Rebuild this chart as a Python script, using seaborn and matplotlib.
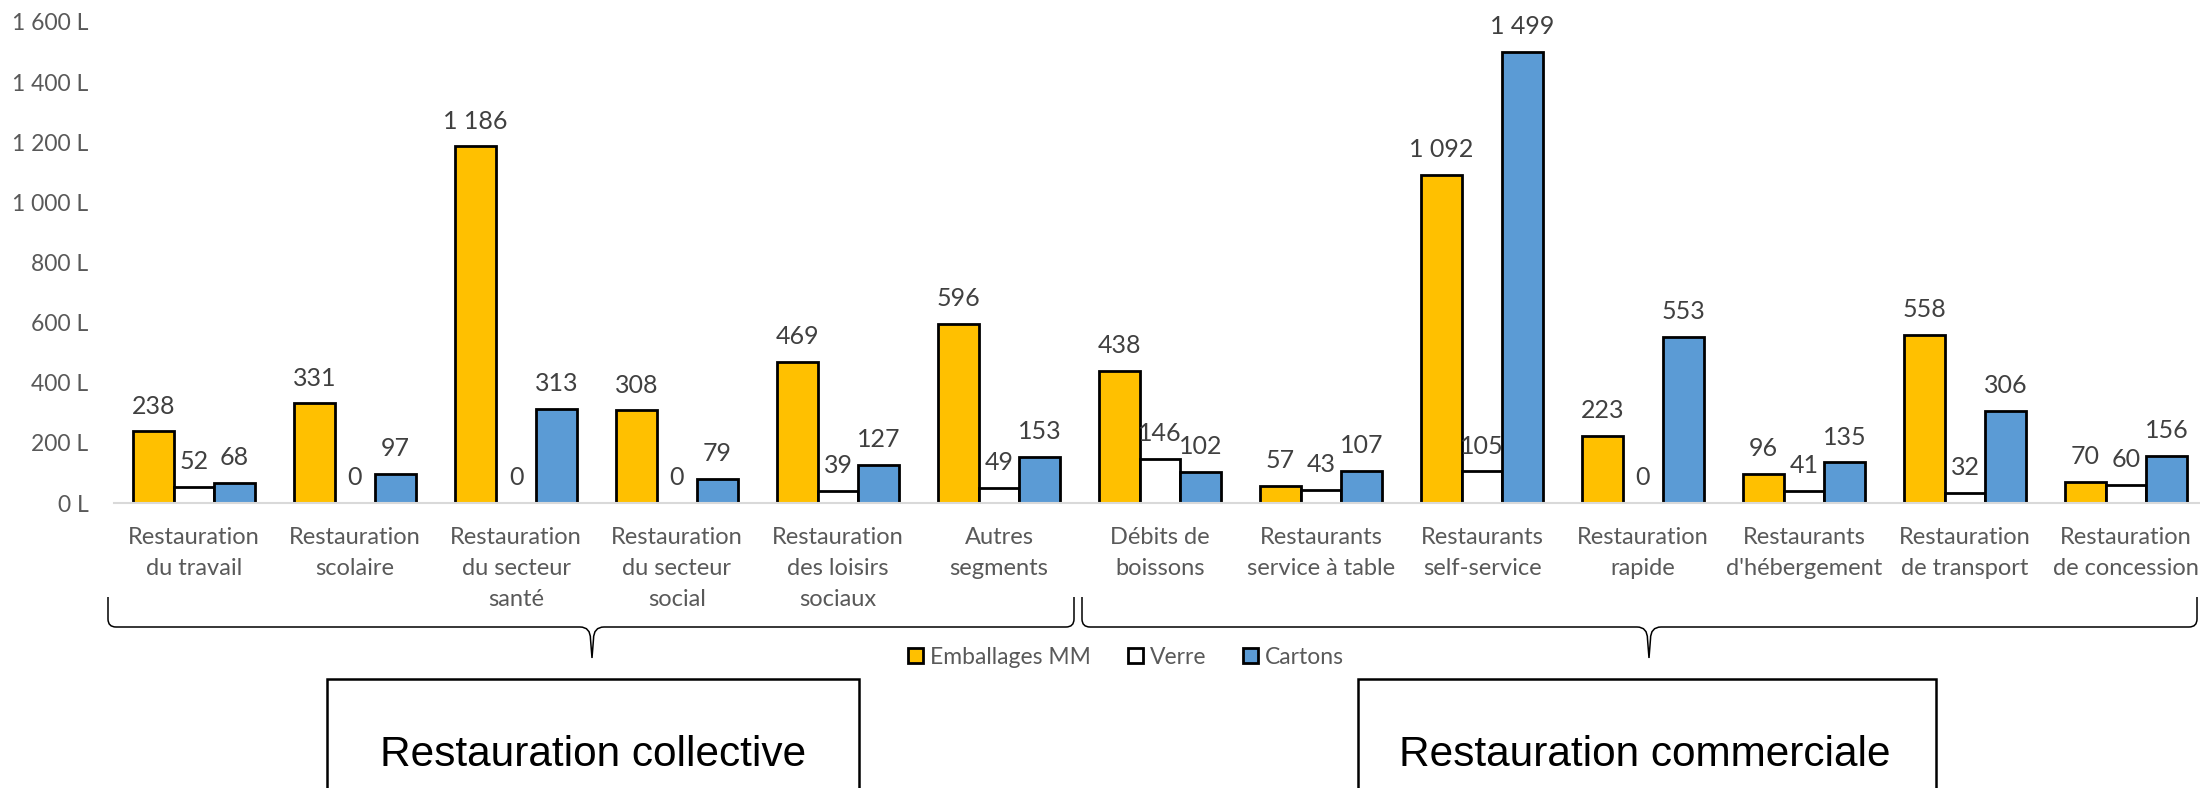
import matplotlib
matplotlib.use("Agg")
import matplotlib.pyplot as plt
from matplotlib.patches import PathPatch, Rectangle
from matplotlib.path import Path
import pandas as pd
import seaborn as sns

# ---------------------------------------------------------------------------
# Data
# ---------------------------------------------------------------------------
categories = [
    "Restauration\ndu travail",
    "Restauration\nscolaire",
    "Restauration\ndu secteur\nsanté",
    "Restauration\ndu secteur\nsocial",
    "Restauration\ndes loisirs\nsociaux",
    "Autres\nsegments",
    "Débits de\nboissons",
    "Restaurants\nservice à table",
    "Restaurants\nself-service",
    "Restauration\nrapide",
    "Restaurants\nd'hébergement",
    "Restauration\nde transport",
    "Restauration\nde concession",
]
emballages_mm = [238, 331, 1186, 308, 469, 596, 438, 57, 1092, 223, 96, 558, 70]
verre = [52, 0, 0, 0, 39, 49, 146, 43, 105, 0, 41, 32, 60]
cartons = [68, 97, 313, 79, 127, 153, 102, 107, 1499, 553, 135, 306, 156]

series_names = ["Emballages MM", "Verre", "Cartons"]
series_colors = ["#FFC000", "#FFFFFF", "#5B9BD5"]
y_ticks = [0, 200, 400, 600, 800, 1000, 1200, 1400, 1600]
group_names = ["Restauration collective", "Restauration commerciale"]

W, H = 2200, 788
TEXT_GREY = "#595959"
LABEL_GREY = "#404040"


def fmt(v):
    return f"{v:,}".replace(",", " ")


def fx(px):
    return px / W


def fy(py):
    return 1 - py / H


def draw_brace(fig, x0, x1, xc, y_top, y_line, y_tip):
    """Under-brace drawn in pixel coordinates (y downwards)."""
    r = 8
    pts = [
        (x0, y_top), (x0, y_line - r), (x0, y_line), (x0 + r, y_line),
        (xc - 12, y_line), (xc - 1.5, y_line), (xc - 1.5, y_line + 12),
        (xc, y_tip),
        (xc + 1.5, y_line + 12), (xc + 1.5, y_line), (xc + 12, y_line),
        (x1 - r, y_line), (x1, y_line), (x1, y_line - r), (x1, y_top),
    ]
    codes = [
        Path.MOVETO, Path.LINETO, Path.CURVE3, Path.CURVE3,
        Path.LINETO, Path.CURVE3, Path.CURVE3,
        Path.LINETO,
        Path.LINETO, Path.CURVE3, Path.CURVE3,
        Path.LINETO, Path.CURVE3, Path.CURVE3, Path.LINETO,
    ]
    verts = [(fx(x), fy(y)) for x, y in pts]
    fig.add_artist(PathPatch(Path(verts, codes), transform=fig.transFigure,
                             fill=False, edgecolor="black", lw=1.1))


# ---------------------------------------------------------------------------
# Figure
# ---------------------------------------------------------------------------
df = pd.DataFrame({
    "segment": categories * 3,
    "type": [s for s in series_names for _ in categories],
    "litres": emballages_mm + verre + cartons,
})

sns.set_theme(style="white")
plt.rcParams["font.family"] = ["Lato", "DejaVu Sans"]

fig = plt.figure(figsize=(W / 100, H / 100), dpi=100)
ax = fig.add_axes([fx(113.5), fy(503), 2093 / W, (503 - 22) / H])

sns.barplot(
    data=df, x="segment", y="litres", hue="type",
    hue_order=series_names, palette=dict(zip(series_names, series_colors)),
    width=0.755, saturation=1, edgecolor="black", linewidth=2,
    legend=False, ax=ax,
)

for cont, vals in zip(ax.containers, [emballages_mm, verre, cartons]):
    ax.bar_label(cont, labels=[fmt(v) for v in vals], padding=10,
                 fontsize=18, color=LABEL_GREY)

ax.set_xlim(-0.5, len(categories) - 0.5)
ax.set_ylim(0, 1600)
ax.set_yticks(y_ticks)
ax.set_yticklabels([f"{fmt(v)} L" for v in y_ticks])
ax.set_xlabel("")
ax.set_ylabel("")
ax.tick_params(axis="y", length=0, pad=18, labelsize=16.5, labelcolor=TEXT_GREY)
ax.tick_params(axis="x", length=0, pad=17, labelsize=17, labelcolor=TEXT_GREY)
for lbl in ax.get_xticklabels():
    lbl.set_linespacing(1.6)
for side in ["left", "top", "right"]:
    ax.spines[side].set_visible(False)
ax.spines["bottom"].set_color("#D9D9D9")
ax.spines["bottom"].set_linewidth(1.5)
ax.grid(False)

# braces under the two groups
draw_brace(fig, 108, 1074, 592, 597, 627, 658)
draw_brace(fig, 1082, 2197, 1649, 597, 627, 658)

# legend
handles = [Rectangle((0, 0), 1, 1, facecolor=c, edgecolor="black", lw=2)
           for c in series_colors]
fig.legend(handles, series_names, loc="center",
           bbox_to_anchor=(fx(1126), fy(657)), ncol=3, frameon=False,
           handlelength=0.65, handleheight=0.65, handletextpad=0.3,
           columnspacing=1.6, fontsize=16.5, labelcolor=TEXT_GREY)

# group boxes
for (x0, x1, xt), name in zip([(327, 859, 593), (1358, 1936, 1645)], group_names):
    fig.add_artist(Rectangle((fx(x0), fy(820)), (x1 - x0) / W, (820 - 679) / H,
                             transform=fig.transFigure, fill=False,
                             edgecolor="black", lw=1.8))
    fig.text(fx(xt), fy(766), name, ha="center", va="baseline",
             fontsize=30.5, family=["Liberation Sans", "DejaVu Sans"], color="black")

fig.savefig("out.png", dpi=100)
